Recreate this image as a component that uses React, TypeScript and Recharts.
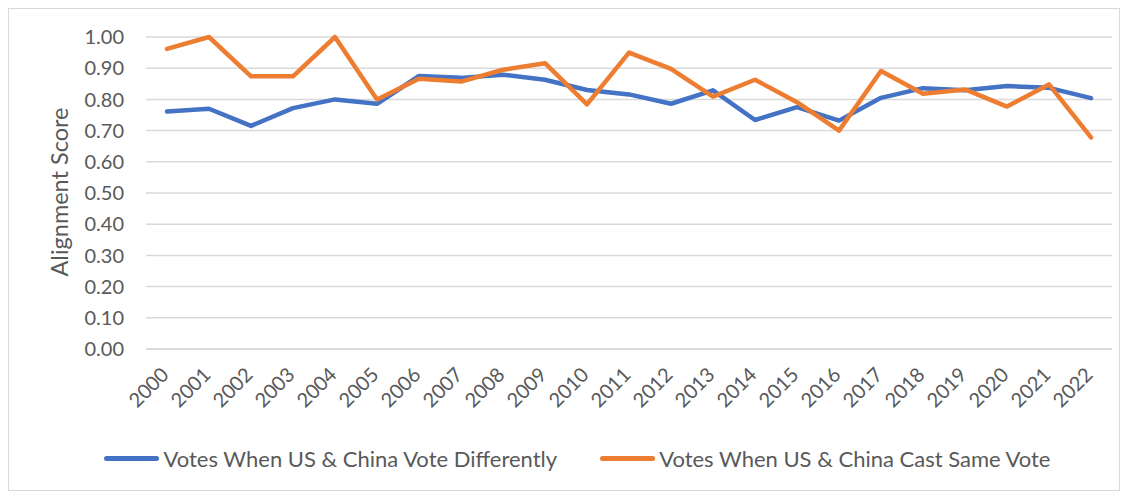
import React from "react";
import { LineChart, Line, XAxis, YAxis, CartesianGrid, Legend } from "recharts";

const years = [
  "2000", "2001", "2002", "2003", "2004", "2005", "2006", "2007", "2008", "2009", "2010", "2011",
  "2012", "2013", "2014", "2015", "2016", "2017", "2018", "2019", "2020", "2021", "2022",
];

const votesDifferent = [
  0.761, 0.77, 0.715, 0.772, 0.8, 0.786, 0.875, 0.869, 0.879, 0.863, 0.83, 0.816,
  0.786, 0.829, 0.734, 0.775, 0.732, 0.805, 0.836, 0.829, 0.843, 0.837, 0.804,
];

const votesSame = [
  0.962, 1.0, 0.874, 0.874, 1.0, 0.8, 0.866, 0.857, 0.895, 0.916, 0.784, 0.95,
  0.898, 0.809, 0.863, 0.791, 0.7, 0.891, 0.818, 0.832, 0.777, 0.848, 0.678,
];

const yTicks = [0, 0.1, 0.2, 0.3, 0.4, 0.5, 0.6, 0.7, 0.8, 0.9, 1.0];

const BLUE = "#4472C4";
const ORANGE = "#ED7D31";
const TEXT = "#595959";
const GRID = "#d9d9d9";
const FONT = "Lato, 'Open Sans', sans-serif";

const data = years.map((year, i) => ({
  year,
  different: votesDifferent[i],
  same: votesSame[i],
}));

const XTick = (props: any) => {
  const { x, y, payload } = props;
  const tx = x + 3;
  const ty = y + 27;
  return (
    <text
      x={tx}
      y={ty}
      transform={`rotate(-45 ${tx} ${ty})`}
      textAnchor="end"
      fill={TEXT}
      fontSize={20}
      fontFamily={FONT}
    >
      {payload.value}
    </text>
  );
};

const legendItems = [
  { color: BLUE, label: "Votes When US & China Vote Differently" },
  { color: ORANGE, label: "Votes When US & China Cast Same Vote" },
];

const renderLegend = () => (
  <div
    style={{
      height: 64,
      display: "flex",
      justifyContent: "center",
      alignItems: "center",
      gap: 43,
      paddingLeft: 34,
      fontFamily: FONT,
      fontSize: 22,
      color: TEXT,
    }}
  >
    {legendItems.map((item) => (
      <div key={item.label} style={{ display: "flex", alignItems: "center" }}>
        <span
          style={{
            display: "inline-block",
            width: 55,
            height: 5,
            borderRadius: 3,
            background: item.color,
            marginRight: 4,
          }}
        />
        <span>{item.label}</span>
      </div>
    ))}
  </div>
);

export default function App() {
  return (
    <div
      style={{
        width: 1112,
        height: 483,
        border: `1px solid ${GRID}`,
        boxSizing: "border-box",
        background: "#fff",
      }}
    >
      <LineChart
        width={1110}
        height={481}
        data={data}
        margin={{ top: 28, right: 7, left: 0, bottom: 0 }}
      >
        <CartesianGrid vertical={false} stroke={GRID} strokeWidth={1.5} />
        <XAxis
          dataKey="year"
          height={77}
          padding={{ left: 21, right: 21 }}
          axisLine={{ stroke: GRID, strokeWidth: 1.5 }}
          tickLine={false}
          tickSize={0}
          tickMargin={0}
          interval={0}
          tick={<XTick />}
        />
        <YAxis
          width={137}
          domain={[0, 1]}
          ticks={yTicks}
          interval={0}
          axisLine={false}
          tickLine={false}
          tickSize={0}
          tickMargin={22}
          tickFormatter={(v: number) => v.toFixed(2)}
          tick={{ fill: TEXT, fontSize: 20, fontFamily: FONT }}
          label={{
            content: () => (
              <text
                x={50}
                y={183}
                transform="rotate(-90 50 183)"
                textAnchor="middle"
                dominantBaseline="central"
                fill={TEXT}
                fontSize={23.5}
                fontFamily={FONT}
              >
                Alignment Score
              </text>
            ),
          }}
        />
        <Legend verticalAlign="bottom" content={renderLegend} />
        <Line
          dataKey="different"
          stroke={BLUE}
          strokeWidth={4.5}
          dot={false}
          strokeLinejoin="round"
          strokeLinecap="round"
          isAnimationActive={false}
        />
        <Line
          dataKey="same"
          stroke={ORANGE}
          strokeWidth={4.5}
          dot={false}
          strokeLinejoin="round"
          strokeLinecap="round"
          isAnimationActive={false}
        />
      </LineChart>
    </div>
  );
}
